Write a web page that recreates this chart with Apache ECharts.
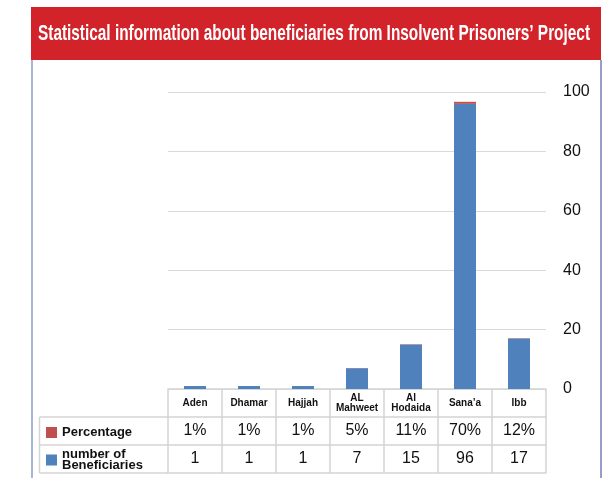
<!DOCTYPE html>
<html>
<head>
<meta charset="utf-8">
<script src="https://cdn.jsdelivr.net/npm/echarts@6/dist/echarts.min.js"></script>
<style>html,body{margin:0;padding:0;background:#fff;}#c{width:608px;height:478px;}</style>
</head>
<body>
<div id="c"></div>
<script>
const titleText = 'Statistical information about beneficiaries from Insolvent Prisoners\u2019 Project';
const categories = ['Aden', 'Dhamar', 'Hajjah', 'AL\nMahweet', 'Al\nHodaida', 'Sana\u2019a', 'Ibb'];
const percentages = [1, 1, 1, 5, 11, 70, 12];
const beneficiaries = [1, 1, 1, 7, 15, 96, 17];
const seriesNames = ['Percentage', 'number of\nBeneficiaries'];

const GL = 168, GR = 546, G0 = 389, ROW = 28, TL = 39.5;
const lineCol = '#d4d4d4';
const font = 'Liberation Sans, Arial, sans-serif';
const titleFont = 'bold 22px "Liberation Sans", Arial, sans-serif';

// fit the condensed title into the banner width
const mc = document.createElement('canvas').getContext('2d');
mc.font = titleFont;
const titleW = mc.measureText(titleText).width;
const titleScale = 552 / titleW;

const chart = echarts.init(document.getElementById('c'), null, {renderer: 'canvas'});

function tableAxis(idx, formatter, opts) {
  return Object.assign({
    type: 'category', data: categories, position: 'bottom', offset: ROW * idx,
    gridIndex: 0,
    axisLine: {show: true, lineStyle: {color: lineCol, width: 1.5}},
    axisTick: {show: false},
    splitLine: {show: false},
    axisLabel: {show: true, interval: 0, margin: 14, verticalAlign: 'middle',
      color: '#111', fontFamily: font, fontSize: 16, formatter: formatter}
  }, opts || {});
}

chart.setOption({
  animation: false,
  backgroundColor: '#fff',
  graphic: [
    {type: 'rect', z: -1, shape: {x: 31, y: 7, width: 570, height: 53}, style: {fill: '#D2232A'}},
    {type: 'text', z: 10, x: 314, y: 34, scaleX: titleScale, scaleY: 1,
      style: {text: titleText, font: titleFont, fill: '#fff', align: 'center', verticalAlign: 'middle'}},
    {type: 'line', shape: {x1: 32, y1: 60, x2: 32, y2: 478}, style: {stroke: '#A9B4D8', lineWidth: 2}},
    {type: 'line', shape: {x1: 601, y1: 60, x2: 601, y2: 478}, style: {stroke: '#2E3D8F', lineWidth: 1}},
    {type: 'line', shape: {x1: TL, y1: G0 + ROW, x2: GL, y2: G0 + ROW}, style: {stroke: lineCol, lineWidth: 1.5}},
    {type: 'line', shape: {x1: TL, y1: G0 + 2 * ROW, x2: GL, y2: G0 + 2 * ROW}, style: {stroke: lineCol, lineWidth: 1.5}},
    {type: 'line', shape: {x1: TL, y1: G0 + 3 * ROW, x2: GL, y2: G0 + 3 * ROW}, style: {stroke: lineCol, lineWidth: 1.5}},
    {type: 'line', shape: {x1: TL, y1: G0 + ROW, x2: TL, y2: G0 + 3 * ROW}, style: {stroke: lineCol, lineWidth: 1.5}}
  ],
  legend: [
    {data: [seriesNames[0]], left: 46, top: 426, padding: 0, orient: 'vertical', itemWidth: 11, itemHeight: 11,
      icon: 'rect', textStyle: {color: '#111', fontFamily: font, fontWeight: 'bold', fontSize: 13}},
    {data: [seriesNames[1]], left: 46, top: 448, padding: 0, orient: 'vertical', itemWidth: 11, itemHeight: 11,
      icon: 'rect', textStyle: {color: '#111', fontFamily: font, fontWeight: 'bold', fontSize: 13, lineHeight: 11}}
  ],
  grid: {left: GL, right: 608 - GR, top: 92, bottom: 478 - G0, containLabel: false},
  xAxis: [
    tableAxis(0, null, {
      axisTick: {show: true, length: ROW * 3, alignWithLabel: false, lineStyle: {color: lineCol, width: 1.5}},
      axisLabel: {show: true, interval: 0, margin: 14, verticalAlign: 'middle', color: '#111',
        fontFamily: font, fontWeight: 'bold', fontSize: 10, lineHeight: 10}
    }),
    tableAxis(1, function (v, i) { return percentages[i] + '%'; }),
    tableAxis(2, function (v, i) { return String(beneficiaries[i]); }),
    tableAxis(3, null, {axisLabel: {show: false}})
  ],
  yAxis: {
    type: 'value', position: 'right', min: 0, max: 100, interval: 20,
    axisLine: {show: false}, axisTick: {show: false},
    splitLine: {show: true, lineStyle: {color: '#d9d9d9', width: 1}},
    axisLabel: {margin: 17, color: '#111', fontFamily: font, fontSize: 16}
  },
  series: [
    {name: seriesNames[1], type: 'bar', stack: 's', barWidth: 22, xAxisIndex: 0,
      itemStyle: {color: '#4F81BD'}, data: beneficiaries},
    {name: seriesNames[0], type: 'bar', stack: 's', barWidth: 22, xAxisIndex: 0,
      itemStyle: {color: '#C0504D'}, data: percentages.map(function (p) { return p / 100; })}
  ]
});
</script>
</body>
</html>
